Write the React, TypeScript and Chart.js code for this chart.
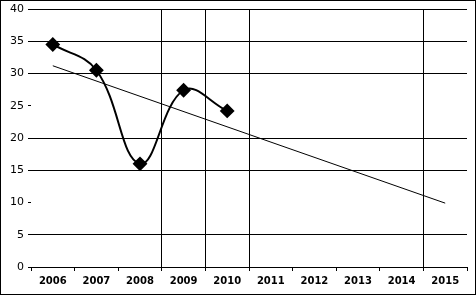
import React, { useEffect, useRef } from "react";
import { Chart, registerables } from "chart.js";

Chart.register(...registerables);

const years = ["2006", "2007", "2008", "2009", "2010", "2011", "2012", "2013", "2014", "2015"];
const values: (number | null)[] = [34.5, 30.5, 16.0, 27.4, 24.2, null, null, null, null, null];
const trend: (number | null)[] = [31.2, null, null, null, null, null, null, null, null, 9.9];
const hiddenYGrid = [10, 25];
const shownXGrid = [3, 4, 5, 9, 10];

export default function App() {
  const ref = useRef<HTMLCanvasElement>(null);
  useEffect(() => {
    if (!ref.current) return;
    const chart = new Chart(ref.current, {
      type: "line",
      data: {
        labels: years,
        datasets: [
          {
            data: values,
            borderColor: "#000",
            backgroundColor: "#000",
            borderWidth: 2,
            tension: 0.4,
            pointStyle: "rectRot",
            pointRadius: 6,
            pointBackgroundColor: "#000",
            pointBorderColor: "#000",
            spanGaps: false,
          },
          {
            data: trend,
            borderColor: "#000",
            borderWidth: 1,
            pointRadius: 0,
            spanGaps: true,
            tension: 0,
          },
        ],
      },
      options: {
        animation: false,
        responsive: false,
        maintainAspectRatio: false,
        layout: { padding: { top: 7, right: 5, left: 0, bottom: 0 } },
        plugins: { legend: { display: false }, tooltip: { enabled: false } },
        scales: {
          x: {
            offset: true,
            grid: {
              offset: true,
              tickLength: 4,
              tickColor: "#000",
              color: (ctx: any) => (shownXGrid.includes(ctx.index) ? "#000" : "rgba(0,0,0,0)"),
              lineWidth: 1,
            },
            border: { display: false },
            ticks: {
              color: "#000",
              font: { family: "DejaVu Sans", size: 10, weight: "bold" },
              maxRotation: 0,
              padding: 4,
            },
            afterFit: (s: any) => {
              s.height = 27;
              s.paddingLeft = 0;
              s.paddingRight = 0;
            },
          },
          y: {
            min: 0,
            max: 40,
            ticks: {
              stepSize: 5,
              color: "#000",
              font: { family: "DejaVu Sans", size: 11 },
              padding: 4,
            },
            grid: {
              tickLength: 3,
              tickColor: "#000",
              color: (ctx: any) =>
                ctx.tick && hiddenYGrid.includes(ctx.tick.value) ? "rgba(0,0,0,0)" : "#000",
              lineWidth: 1,
            },
            border: { display: false },
            afterFit: (s: any) => {
              s.width = 30;
              s.paddingTop = 0;
              s.paddingBottom = 0;
            },
          },
        },
      },
    });
    return () => chart.destroy();
  }, []);
  return (
    <div
      style={{
        position: "fixed",
        left: 0,
        top: 0,
        width: 476,
        height: 295,
        boxSizing: "border-box",
        border: "1px solid #000",
        background: "#fff",
      }}
    >
      <canvas ref={ref} width={474} height={293} style={{ display: "block" }} />
    </div>
  );
}
